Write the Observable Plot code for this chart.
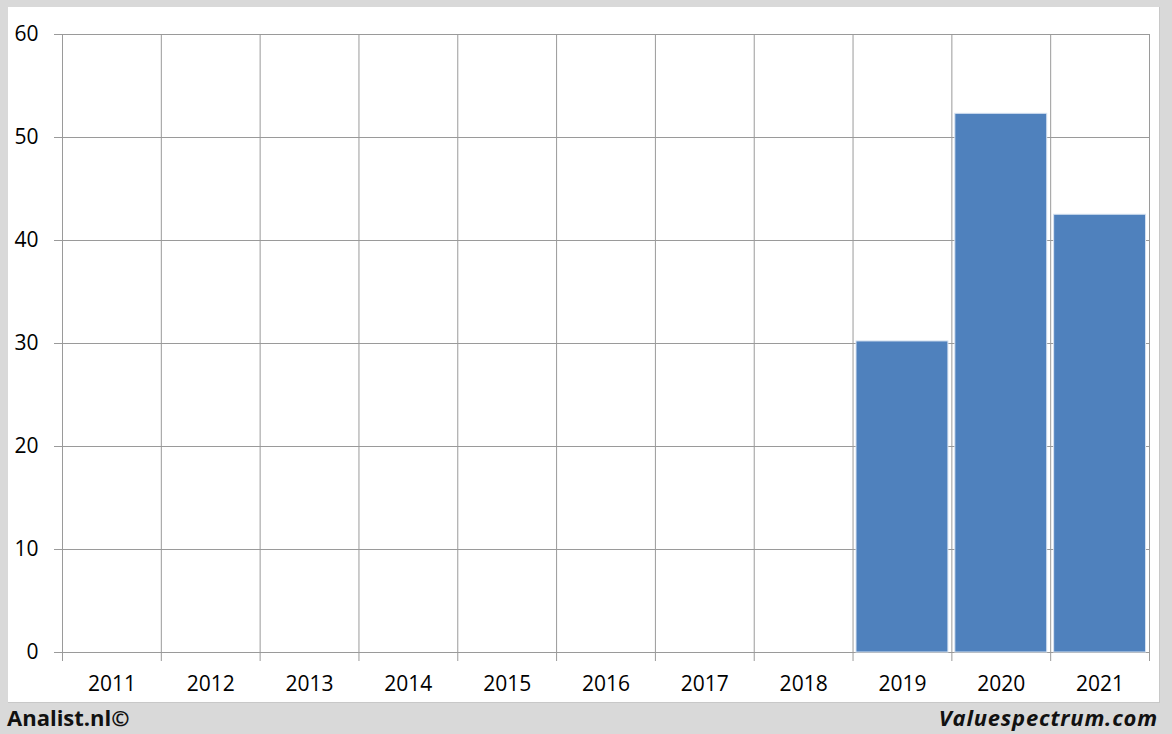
<!DOCTYPE html>
<html>
<head>
<meta charset="utf-8">
<script src="https://cdn.jsdelivr.net/npm/d3@7"></script>
<script src="https://cdn.jsdelivr.net/npm/@observablehq/plot@0.6"></script>
<style>
  html, body { margin: 0; padding: 0; }
  body { width: 1172px; height: 734px; background: #d9d9d9; position: relative; overflow: hidden; font-family: "Open Sans", sans-serif; }
  #panel { position: absolute; left: 8px; top: 7px; width: 1151px; height: 695px; background: #fff; border-right: 1px solid #c8c8c8; border-bottom: 1px solid #c8c8c8; }
  #panel svg { display: block; }
  .foot { position: absolute; top: 701px; font-weight: bold; font-size: 22px; color: #111; line-height: 32px; }
  #left { left: 7px; }
  #right { right: 14px; font-style: italic; letter-spacing: 0.8px; }
</style>
</head>
<body>
<div id="panel"></div>
<div class="foot" id="left">Analist.nl©</div>
<div class="foot" id="right">Valuespectrum.com</div>
<script>
const years = [2011, 2012, 2013, 2014, 2015, 2016, 2017, 2018, 2019, 2020, 2021];
const values = [null, null, null, null, null, null, null, null, 30.2, 52.3, 42.5];
const yTicks = [0, 10, 20, 30, 40, 50, 60];

const data = years.map((y, i) => ({year: y, value: values[i]})).filter(d => d.value != null);
const bounds = [years[0] - 0.5, ...years.map(y => y + 0.5)];

const chart = Plot.plot({
  width: 1151,
  height: 695,
  marginLeft: 54,
  marginTop: 27,
  marginRight: 10,
  marginBottom: 50,
  style: {fontFamily: "Open Sans, sans-serif", fontSize: "21px", color: "#000", background: "#fff"},
  x: {domain: [years[0] - 0.5, years[years.length - 1] + 0.5]},
  y: {domain: [0, 60]},
  marks: [
    Plot.ruleY(yTicks, {stroke: "#9a9a9a", strokeWidth: 1, strokeOpacity: 1, insetLeft: -8}),
    Plot.ruleX(bounds, {y1: 60, y2: 0, stroke: "#9a9a9a", strokeWidth: 1, strokeOpacity: 1, insetBottom: -9}),
    Plot.rectY(data, {x1: d => d.year - 0.465, x2: d => d.year + 0.465, y1: 0, y2: "value", fill: "#4f81bd", stroke: "#d6e2f1", strokeWidth: 1}),
    Plot.axisY({ticks: yTicks, tickSize: 0, tickPadding: 24, fontSize: 21, label: null}),
    Plot.axisX({ticks: years, tickFormat: d => String(d), tickSize: 0, tickPadding: 24, fontSize: 21, label: null})
  ]
});
document.getElementById("panel").appendChild(chart);
</script>
</body>
</html>
